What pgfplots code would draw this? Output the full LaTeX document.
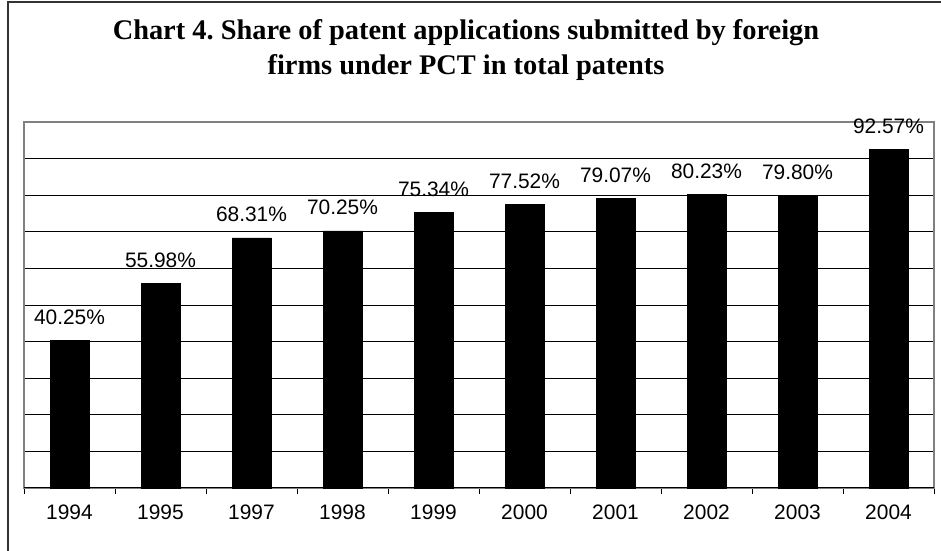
\documentclass[border=0pt]{standalone}
\usepackage{pgfplots}
\pgfplotsset{compat=1.18}
\usepackage{fontspec}
\setmainfont{Liberation Sans}
\newfontfamily\titlefont{Liberation Serif}
\frenchspacing
\begin{document}
\begin{tikzpicture}[x=1bp,y=1bp]
\useasboundingbox (0,0) rectangle (941,551);
\draw[line width=1.5bp, black!80] (8,0) -- (8,549) -- (941,549);
\node[anchor=base, inner sep=0, font=\titlefont\bfseries\fontsize{28.5}{32}\selectfont] at (466,511) {Chart 4. Share of patent applications submitted by foreign};
\node[anchor=base, inner sep=0, font=\titlefont\bfseries\fontsize{28.5}{32}\selectfont] at (466,476) {firms under PCT in total patents};
\begin{axis}[
  at={(24bp,63bp)}, anchor=south west,
  scale only axis, width=910bp, height=366bp,
  xmin=-0.5, xmax=9.5, ymin=0, ymax=100,
  axis line style={draw=black!50, line width=1.6bp},
  ytick={10,20,...,90}, yticklabels={},
  major tick length=0pt,
  ymajorgrids, grid style={black, line width=0.8bp},
  xtick={0,...,9},
  xticklabels={1994,1995,1997,1998,1999,2000,2001,2002,2003,2004},
  minor xtick={-0.5,0.5,...,9.5},
  minor tick length=6bp,
  tick align=outside,
  xtick pos=bottom,
  xtick style={draw=none},
  minor x tick style={draw=black, line width=0.8bp},
  ytick style={draw=none},
  tick label style={font=\fontsize{21}{24}\selectfont},
  xticklabel style={yshift=-13bp},
  nodes near coords,
  nodes near coords style={font=\fontsize{21}{24}\selectfont},
  point meta=explicit symbolic,
  every node near coord/.append style={anchor=base, yshift=16bp, inner sep=0pt},
  clip=false,
]
\addplot[ybar, bar width=39bp, fill=black, draw=black] coordinates {
(0,40.25) [40.25\%]
(1,55.98) [55.98\%]
(2,68.31) [68.31\%]
(3,70.25) [70.25\%]
(4,75.34) [75.34\%]
(5,77.52) [77.52\%]
(6,79.07) [79.07\%]
(7,80.23) [80.23\%]
(8,79.80) [79.80\%]
(9,92.57) [92.57\%]
};
\draw[black, line width=1bp] (rel axis cs:0,0) -- (rel axis cs:1,0);
\end{axis}
\end{tikzpicture}
\end{document}
